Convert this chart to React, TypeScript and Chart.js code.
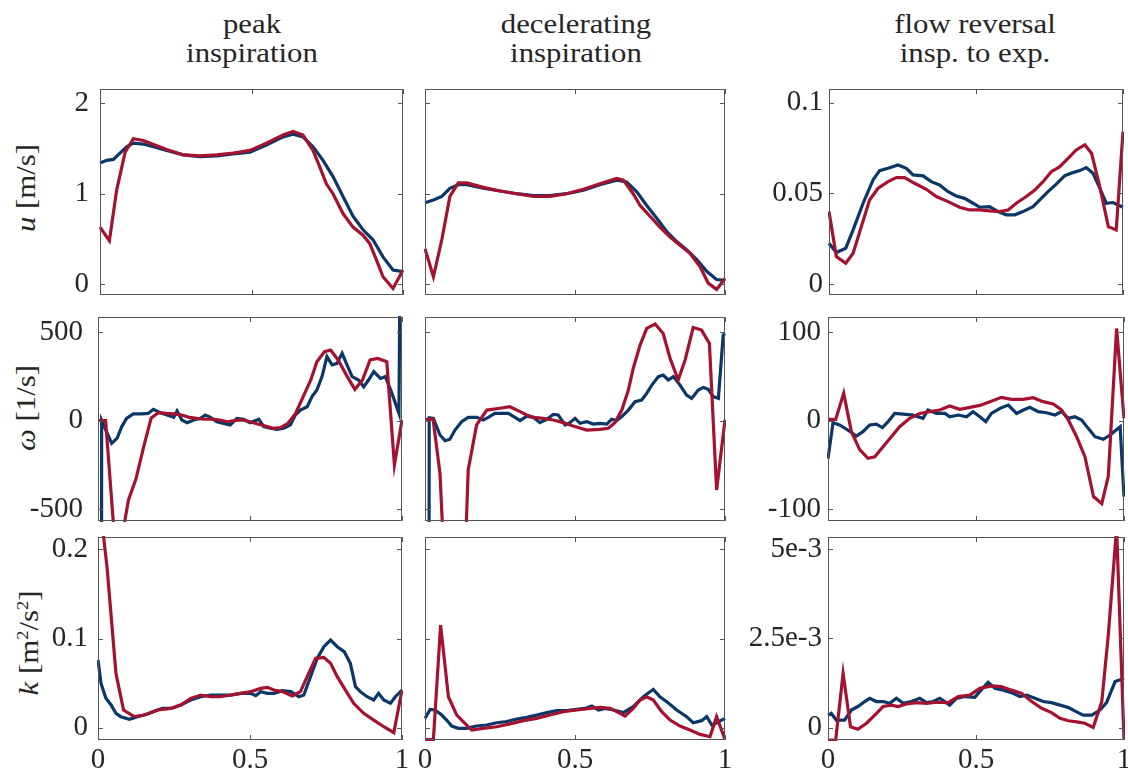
import React, { useEffect, useRef } from "react";
import { Chart, registerables } from "chart.js";

Chart.register(...registerables);

const BLUE = "#0b3668";
const RED = "#a5122f";
const FRAME = "#555555";
const TEXT = "#262626";
const FONT = "'Liberation Serif', 'Times New Roman', Times, serif";

// ---------- tick values / labels ----------
const xTicks = [0, 0.5, 1];
const xTickLabels = ["0", "0.5", "1"];
const uTicks = [0, 1, 2];
const uTickLabels = ["0", "1", "2"];
const uRevTicks = [0, 0.05, 0.1];
const uRevTickLabels = ["0", "0.05", "0.1"];
const wTicks = [-500, 0, 500];
const wTickLabels = ["-500", "0", "500"];
const wRevTicks = [-100, 0, 100];
const wRevTickLabels = ["-100", "0", "100"];
const kTicks = [0, 0.1, 0.2];
const kTickLabels = ["0", "0.1", "0.2"];
const kRevTicks = [0, 2.5e-3, 5e-3];
const kRevTickLabels = ["0", "2.5e-3", "5e-3"];

const columnTitles = [
  ["peak", "inspiration"],
  ["decelerating", "inspiration"],
  ["flow reversal", "insp. to exp."],
];

// ---------- row 1 : u [m/s] ----------
const uPeakBlueX = [0, 0.022, 0.044, 0.066, 0.088, 0.11, 0.143, 0.176, 0.22, 0.275, 0.33, 0.385, 0.44, 0.495, 0.549, 0.604, 0.637, 0.67, 0.703, 0.736, 0.769, 0.802, 0.835, 0.868, 0.901, 0.934, 0.967, 1];
const uPeakBlue = [1.34, 1.37, 1.38, 1.45, 1.52, 1.56, 1.55, 1.52, 1.48, 1.43, 1.41, 1.42, 1.44, 1.46, 1.54, 1.63, 1.66, 1.63, 1.52, 1.37, 1.19, 0.97, 0.75, 0.6, 0.49, 0.3, 0.155, 0.137];
const uPeakRedX = [0, 0.031, 0.055, 0.083, 0.11, 0.143, 0.22, 0.275, 0.33, 0.385, 0.44, 0.495, 0.549, 0.604, 0.637, 0.67, 0.703, 0.725, 0.747, 0.769, 0.802, 0.835, 0.868, 0.89, 0.912, 0.934, 0.967, 1];
const uPeakRed = [0.63, 0.48, 1.04, 1.46, 1.61, 1.59, 1.49, 1.43, 1.42, 1.43, 1.45, 1.48, 1.56, 1.65, 1.69, 1.65, 1.48, 1.3, 1.11, 1.0, 0.78, 0.63, 0.54, 0.45, 0.27, 0.08, -0.05, 0.155];

const uDecBlueX = [0, 0.028, 0.056, 0.083, 0.111, 0.139, 0.194, 0.25, 0.306, 0.361, 0.417, 0.472, 0.528, 0.583, 0.639, 0.672, 0.706, 0.739, 0.772, 0.806, 0.839, 0.872, 0.906, 0.939, 0.972, 1];
const uDecBlue = [0.9, 0.93, 0.97, 1.06, 1.1, 1.1, 1.06, 1.03, 1.0, 0.98, 0.98, 1.0, 1.04, 1.1, 1.15, 1.13, 1.02, 0.87, 0.73, 0.58, 0.47, 0.38, 0.27, 0.14, 0.05, 0.04];
const uDecRedX = [0, 0.028, 0.056, 0.083, 0.111, 0.139, 0.194, 0.25, 0.306, 0.361, 0.417, 0.472, 0.528, 0.583, 0.639, 0.661, 0.694, 0.717, 0.75, 0.783, 0.817, 0.85, 0.883, 0.917, 0.944, 0.972, 1];
const uDecRed = [0.39, 0.08, 0.49, 0.97, 1.12, 1.12, 1.07, 1.03, 1.0, 0.97, 0.97, 1.0, 1.05, 1.11, 1.17, 1.15, 1.0, 0.87, 0.75, 0.63, 0.52, 0.43, 0.34, 0.19, 0.01, -0.06, 0.06];

const uRevBlueX = [0, 0.025, 0.057, 0.082, 0.116, 0.15, 0.172, 0.201, 0.235, 0.263, 0.286, 0.32, 0.348, 0.376, 0.405, 0.433, 0.461, 0.49, 0.512, 0.546, 0.575, 0.603, 0.632, 0.66, 0.694, 0.717, 0.745, 0.773, 0.802, 0.83, 0.853, 0.875, 0.898, 0.921, 0.943, 0.966, 1];
const uRevBlue = [0.0224, 0.0173, 0.0197, 0.0298, 0.0445, 0.0574, 0.0625, 0.0638, 0.0656, 0.0638, 0.0601, 0.0596, 0.0564, 0.0546, 0.0509, 0.0485, 0.0472, 0.0445, 0.0423, 0.0426, 0.0399, 0.0381, 0.0381, 0.0399, 0.0426, 0.0463, 0.0509, 0.055, 0.0597, 0.0614, 0.0625, 0.0642, 0.061, 0.0528, 0.0445, 0.0449, 0.0423];
const uRevRedX = [0, 0.025, 0.057, 0.082, 0.11, 0.138, 0.167, 0.201, 0.229, 0.257, 0.291, 0.331, 0.365, 0.405, 0.444, 0.478, 0.512, 0.546, 0.58, 0.609, 0.637, 0.671, 0.7, 0.728, 0.756, 0.785, 0.813, 0.841, 0.87, 0.893, 0.921, 0.95, 0.977, 1];
const uRevRed = [0.0399, 0.0151, 0.0114, 0.0169, 0.0316, 0.0463, 0.0528, 0.0564, 0.0586, 0.0586, 0.0555, 0.0522, 0.0482, 0.0454, 0.0423, 0.0408, 0.0408, 0.0403, 0.0399, 0.0408, 0.0445, 0.0482, 0.0518, 0.0564, 0.0619, 0.0647, 0.0693, 0.0739, 0.0767, 0.0721, 0.0537, 0.0316, 0.0298, 0.084];

// ---------- row 2 : omega [1/s] ----------
const wPeakBlueX = [0, 0.012, 0.045, 0.063, 0.078, 0.094, 0.116, 0.143, 0.165, 0.182, 0.205, 0.227, 0.249, 0.26, 0.276, 0.293, 0.315, 0.337, 0.353, 0.37, 0.391, 0.413, 0.435, 0.457, 0.479, 0.5, 0.529, 0.545, 0.567, 0.589, 0.611, 0.633, 0.649, 0.666, 0.688, 0.704, 0.72, 0.737, 0.753, 0.77, 0.786, 0.803, 0.819, 0.836, 0.857, 0.874, 0.89, 0.907, 0.929, 0.945, 0.967, 0.99, 1];
const wPeakBlue = [-30000, 0, -129, -100, -35, 12, 37, 37, 40, 63, 44, 31, 18, 54, 3, -12, 3, 12, 31, 18, -7, -16, -25, 12, 7, -12, 7, -35, -44, -50, -44, -25, 31, 59, 78, 135, 172, 248, 361, 314, 323, 380, 314, 248, 229, 191, 229, 276, 238, 248, 153, 40, 2500];
const wPeakRedX = [0, 0.025, 0.055, 0.075, 0.1, 0.125, 0.15, 0.175, 0.2, 0.225, 0.25, 0.275, 0.3, 0.325, 0.35, 0.375, 0.4, 0.425, 0.45, 0.475, 0.5, 0.525, 0.55, 0.575, 0.6, 0.625, 0.65, 0.675, 0.7, 0.72, 0.745, 0.765, 0.79, 0.82, 0.845, 0.87, 0.895, 0.92, 0.95, 0.975, 1];
const wPeakRed = [0, 0, -680, -700, -450, -330, -150, 15, 45, 40, 37, 31, 18, 12, 7, 8, 3, -7, 0, 3, -7, -20, -31, -44, -40, -16, 40, 135, 229, 332, 389, 398, 342, 248, 176, 229, 342, 351, 332, -251, 3];

const wDecBlueX = [0, 0.014, 0.028, 0.05, 0.067, 0.083, 0.1, 0.122, 0.144, 0.172, 0.194, 0.211, 0.233, 0.261, 0.278, 0.3, 0.317, 0.339, 0.361, 0.383, 0.406, 0.428, 0.444, 0.467, 0.483, 0.5, 0.517, 0.539, 0.561, 0.583, 0.606, 0.622, 0.639, 0.656, 0.678, 0.7, 0.722, 0.739, 0.756, 0.778, 0.794, 0.811, 0.828, 0.85, 0.872, 0.889, 0.911, 0.928, 0.944, 0.961, 0.978, 0.994, 1];
const wDecBlue = [-30000, 15, 12, -82, -114, -106, -54, -7, 18, 18, 3, 18, 40, 40, 40, 18, 0, 25, 18, -12, 7, 35, 31, -25, -12, 12, -16, -7, -20, -16, -20, 7, 0, 22, 59, 106, 116, 153, 200, 248, 257, 229, 248, 200, 144, 125, 172, 187, 176, 135, 125, 483, 492];
const wDecRedX = [0, 0.027, 0.05, 0.075, 0.125, 0.144, 0.172, 0.206, 0.244, 0.283, 0.317, 0.339, 0.361, 0.394, 0.428, 0.461, 0.494, 0.539, 0.583, 0.611, 0.633, 0.656, 0.678, 0.694, 0.717, 0.739, 0.767, 0.794, 0.817, 0.844, 0.867, 0.894, 0.922, 0.948, 0.972, 1];
const wDecRed = [7, 7, -300, -1200, -1200, -279, -25, 59, 68, 78, 50, 31, 18, 12, 3, -12, -31, -54, -50, -44, -12, 59, 172, 294, 426, 521, 545, 492, 351, 229, 342, 526, 511, 436, -393, 3];

const wRevBlueX = [0, 0.017, 0.039, 0.068, 0.096, 0.118, 0.141, 0.163, 0.184, 0.203, 0.225, 0.254, 0.287, 0.321, 0.338, 0.366, 0.395, 0.411, 0.44, 0.468, 0.49, 0.513, 0.533, 0.552, 0.581, 0.609, 0.637, 0.66, 0.682, 0.71, 0.738, 0.767, 0.789, 0.812, 0.834, 0.857, 0.879, 0.902, 0.93, 0.953, 0.987, 1];
const wRevBlue = [-43, -2.4, -5, -11, -17.5, -12.6, -5, -4, -8, -1.3, 8, 7.3, 6, 2.4, 11.9, 8, 8, 4.3, 6.2, 4.3, 10, 4.3, -1.3, 8, 13.7, 17.5, 8, 11.9, 14.9, 10, 8.8, 6.2, 10, 2.4, 4.3, 0.6, -8.9, -18.3, -21.3, -16.4, -7, -86];
const wRevRedX = [0, 0.026, 0.053, 0.079, 0.107, 0.135, 0.158, 0.186, 0.214, 0.242, 0.276, 0.31, 0.344, 0.378, 0.411, 0.445, 0.479, 0.513, 0.547, 0.586, 0.62, 0.66, 0.693, 0.727, 0.761, 0.789, 0.812, 0.84, 0.868, 0.897, 0.925, 0.947, 0.975, 1];
const wRevRed = [1.3, 1.3, 30.7, -12.6, -33, -42.7, -41, -29.6, -18.3, -7, 2.4, 8, 10, 11.9, 16.4, 12.6, 14.9, 17.1, 21.3, 26.2, 23.9, 23.9, 25.8, 21.3, 18.6, 11.9, 0.6, -18.3, -40.9, -86, -94, -63, 104, 2.4];

// ---------- row 3 : k [m2/s2] ----------
const kPeakBlueX = [0, 0.01, 0.026, 0.043, 0.059, 0.075, 0.103, 0.13, 0.163, 0.196, 0.212, 0.24, 0.272, 0.305, 0.338, 0.371, 0.403, 0.437, 0.469, 0.502, 0.519, 0.535, 0.557, 0.579, 0.606, 0.634, 0.661, 0.677, 0.699, 0.721, 0.743, 0.765, 0.787, 0.81, 0.83, 0.847, 0.863, 0.885, 0.907, 0.923, 0.94, 0.962, 0.978, 1];
const kPeakBlue = [0.0758, 0.0496, 0.0328, 0.0253, 0.0159, 0.0122, 0.0092, 0.0122, 0.0152, 0.0197, 0.0215, 0.0215, 0.0253, 0.0309, 0.0346, 0.0365, 0.0365, 0.0365, 0.0384, 0.0384, 0.0358, 0.0403, 0.0384, 0.0384, 0.0414, 0.0403, 0.0346, 0.0365, 0.0571, 0.0777, 0.0908, 0.0983, 0.0908, 0.0852, 0.0721, 0.0459, 0.0403, 0.0346, 0.0309, 0.0384, 0.0309, 0.0272, 0.0346, 0.0421];
const kPeakRedX = [0, 0.03, 0.059, 0.084, 0.119, 0.152, 0.196, 0.24, 0.272, 0.305, 0.338, 0.371, 0.403, 0.437, 0.469, 0.502, 0.535, 0.557, 0.579, 0.606, 0.639, 0.666, 0.688, 0.716, 0.743, 0.765, 0.787, 0.814, 0.841, 0.874, 0.907, 0.94, 0.973, 1];
const kPeakRed = [0.27, 0.179, 0.061, 0.0197, 0.0122, 0.014, 0.0197, 0.0215, 0.0253, 0.0328, 0.0365, 0.0346, 0.0346, 0.0365, 0.0384, 0.0403, 0.044, 0.0451, 0.0421, 0.0403, 0.0354, 0.0403, 0.0571, 0.0777, 0.0788, 0.0721, 0.0571, 0.0421, 0.0272, 0.0159, 0.0084, 0.0009, -0.0058, 0.0421];

const kDecBlueX = [0, 0.017, 0.033, 0.056, 0.072, 0.089, 0.111, 0.139, 0.172, 0.206, 0.239, 0.272, 0.306, 0.339, 0.372, 0.406, 0.439, 0.472, 0.506, 0.533, 0.556, 0.578, 0.6, 0.628, 0.661, 0.694, 0.728, 0.761, 0.783, 0.806, 0.839, 0.872, 0.894, 0.922, 0.939, 0.956, 0.972, 1];
const kDecBlue = [0.0103, 0.0204, 0.0197, 0.014, 0.0084, 0.0017, -0.0009, -0.0009, 0.0017, 0.0028, 0.0054, 0.0066, 0.0096, 0.0114, 0.014, 0.0167, 0.0189, 0.0189, 0.0204, 0.0215, 0.0242, 0.0197, 0.0215, 0.0197, 0.0167, 0.0234, 0.0346, 0.0429, 0.0346, 0.029, 0.0197, 0.0122, 0.0054, 0.0077, 0.0122, 0.0028, 0.0054, 0.0103];
const kDecRedX = [0, 0.028, 0.052, 0.078, 0.106, 0.133, 0.156, 0.194, 0.239, 0.283, 0.328, 0.372, 0.417, 0.461, 0.506, 0.55, 0.583, 0.617, 0.639, 0.667, 0.694, 0.717, 0.739, 0.761, 0.789, 0.817, 0.85, 0.883, 0.917, 0.95, 0.972, 1];
const kDecRed = [-0.0135, -0.0135, 0.115, 0.0346, 0.014, 0.0047, -0.0028, -0.0009, 0.0009, 0.0039, 0.0077, 0.0103, 0.014, 0.0178, 0.0197, 0.0215, 0.0227, 0.0215, 0.0178, 0.0129, 0.0215, 0.0309, 0.0346, 0.0309, 0.0178, 0.0084, 0.0017, -0.0028, -0.0077, -0.0103, 0.0122, -0.0135];

const kRevBlueX = [0, 0.011, 0.028, 0.056, 0.079, 0.101, 0.124, 0.141, 0.163, 0.186, 0.209, 0.231, 0.254, 0.282, 0.31, 0.333, 0.355, 0.378, 0.411, 0.434, 0.462, 0.496, 0.519, 0.541, 0.564, 0.592, 0.62, 0.648, 0.671, 0.699, 0.727, 0.755, 0.784, 0.812, 0.84, 0.862, 0.891, 0.919, 0.941, 0.97, 1];
const kRevBlue = [0.35e-3, 0.4e-3, 0.21e-3, 0.21e-3, 0.49e-3, 0.59e-3, 0.73e-3, 0.82e-3, 0.73e-3, 0.73e-3, 0.68e-3, 0.82e-3, 0.68e-3, 0.73e-3, 0.82e-3, 0.7e-3, 0.73e-3, 0.82e-3, 0.63e-3, 0.82e-3, 0.87e-3, 0.85e-3, 1.07e-3, 1.27e-3, 1.1e-3, 1.05e-3, 0.98e-3, 0.87e-3, 0.91e-3, 0.82e-3, 0.73e-3, 0.7e-3, 0.63e-3, 0.56e-3, 0.44e-3, 0.35e-3, 0.35e-3, 0.49e-3, 0.7e-3, 1.29e-3, 1.38e-3];
const kRevRedX = [0, 0.026, 0.051, 0.076, 0.101, 0.13, 0.158, 0.186, 0.214, 0.237, 0.265, 0.299, 0.333, 0.366, 0.406, 0.44, 0.479, 0.513, 0.553, 0.586, 0.62, 0.654, 0.688, 0.722, 0.755, 0.784, 0.812, 0.84, 0.868, 0.896, 0.925, 0.947, 0.975, 1];
const kRevRed = [-0.35e-3, -0.35e-3, 1.52e-3, 0.02e-3, -0.05e-3, 0.12e-3, 0.35e-3, 0.59e-3, 0.63e-3, 0.59e-3, 0.66e-3, 0.7e-3, 0.68e-3, 0.71e-3, 0.7e-3, 0.87e-3, 0.91e-3, 1.1e-3, 1.17e-3, 1.15e-3, 1.05e-3, 0.96e-3, 0.73e-3, 0.54e-3, 0.42e-3, 0.26e-3, 0.19e-3, 0.16e-3, 0.12e-3, 0, 0.73e-3, 2.6e-3, 5.6e-3, -0.35e-3];

// ---------- layout ----------
const PL = 100; // space left of plot box inside canvas
const PT = 40;
const PR = 20;
const PB = 50;
const TICK_LEN = 5;

type PanelSpec = {
  id: string;
  box: [number, number, number, number]; // left, top, right, bottom (page px)
  yMin: number;
  yMax: number;
  yTicks: number[];
  yLabels: string[];
  showY: boolean;
  showX: boolean;
  yPad: number;
  blueX: number[];
  blue: number[];
  redX: number[];
  red: number[];
};

const panels: PanelSpec[] = [
  { id: "u1", box: [100, 89, 403, 295], yMin: -0.122, yMax: 2.16, yTicks: uTicks, yLabels: uTickLabels, showY: true, showX: false, yPad: 11, blueX: uPeakBlueX, blue: uPeakBlue, redX: uPeakRedX, red: uPeakRed },
  { id: "u2", box: [425, 89, 725, 295], yMin: -0.122, yMax: 2.16, yTicks: uTicks, yLabels: uTickLabels, showY: false, showX: false, yPad: 11, blueX: uDecBlueX, blue: uDecBlue, redX: uDecRedX, red: uDecRed },
  { id: "u3", box: [829, 89, 1123, 295], yMin: -0.0061, yMax: 0.1075, yTicks: uRevTicks, yLabels: uRevTickLabels, showY: true, showX: false, yPad: 6, blueX: uRevBlueX, blue: uRevBlue, redX: uRevRedX, red: uRevRed },
  { id: "w1", box: [98, 317, 402, 521], yMin: -568, yMax: 585, yTicks: wTicks, yLabels: wTickLabels, showY: true, showX: false, yPad: 15, blueX: wPeakBlueX, blue: wPeakBlue, redX: wPeakRedX, red: wPeakRed },
  { id: "w2", box: [425, 317, 725, 521], yMin: -568, yMax: 585, yTicks: wTicks, yLabels: wTickLabels, showY: false, showX: false, yPad: 15, blueX: wDecBlueX, blue: wDecBlue, redX: wDecRedX, red: wDecRed },
  { id: "w3", box: [828, 317, 1124, 521], yMin: -113.6, yMax: 117, yTicks: wRevTicks, yLabels: wRevTickLabels, showY: true, showX: false, yPad: 7, blueX: wRevBlueX, blue: wRevBlue, redX: wRevRedX, red: wRevRed },
  { id: "k1", box: [98, 537, 402, 740], yMin: -0.014, yMax: 0.214, yTicks: kTicks, yLabels: kTickLabels, showY: true, showX: true, yPad: 10, blueX: kPeakBlueX, blue: kPeakBlue, redX: kPeakRedX, red: kPeakRed },
  { id: "k2", box: [425, 537, 725, 740], yMin: -0.014, yMax: 0.214, yTicks: kTicks, yLabels: kTickLabels, showY: false, showX: true, yPad: 10, blueX: kDecBlueX, blue: kDecBlue, redX: kDecRedX, red: kDecRed },
  { id: "k3", box: [828, 537, 1124, 740], yMin: -0.00035, yMax: 0.00535, yTicks: kRevTicks, yLabels: kRevTickLabels, showY: true, showX: true, yPad: 6, blueX: kRevBlueX, blue: kRevBlue, redX: kRevRedX, red: kRevRed },
];

const toXY = (xs: number[], ys: number[]) => xs.map((x, i) => ({ x, y: ys[i] }));

function Panel({ spec }: { spec: PanelSpec }) {
  const ref = useRef<HTMLCanvasElement>(null);
  const [l, t, r, b] = spec.box;
  const W = r - l + PL + PR;
  const H = b - t + PT + PB;

  useEffect(() => {
    const framePlugin = {
      id: "frame" + spec.id,
      afterDraw(c: any) {
        const { ctx, chartArea: a } = c;
        const xs = c.scales.x;
        const ys = c.scales.y;
        ctx.save();
        ctx.strokeStyle = FRAME;
        ctx.lineWidth = 1;
        ctx.beginPath();
        ctx.rect(a.left + 0.5, a.top + 0.5, a.right - a.left - 1, a.bottom - a.top - 1);
        for (const v of xTicks) {
          const px = Math.round(xs.getPixelForValue(v)) + 0.5;
          ctx.moveTo(px, a.bottom);
          ctx.lineTo(px, a.bottom - TICK_LEN);
          ctx.moveTo(px, a.top);
          ctx.lineTo(px, a.top + TICK_LEN);
        }
        for (const v of spec.yTicks) {
          const py = Math.round(ys.getPixelForValue(v)) + 0.5;
          ctx.moveTo(a.left, py);
          ctx.lineTo(a.left + TICK_LEN, py);
          ctx.moveTo(a.right, py);
          ctx.lineTo(a.right - TICK_LEN, py);
        }
        ctx.stroke();
        ctx.restore();
      },
    };

    const tickFont = { family: FONT, size: 29 };
    const chart = new Chart(ref.current as HTMLCanvasElement, {
      type: "line",
      data: {
        datasets: [
          { data: toXY(spec.redX, spec.red), borderColor: RED, borderWidth: 3.2, pointRadius: 0, tension: 0, fill: false, clip: 1 },
          { data: toXY(spec.blueX, spec.blue), borderColor: BLUE, borderWidth: 3.2, pointRadius: 0, tension: 0, fill: false, clip: 1 },
        ],
      },
      options: {
        animation: false,
        responsive: false,
        maintainAspectRatio: false,
        events: [],
        layout: { padding: { left: 0, top: PT, right: PR, bottom: 0 } },
        plugins: { legend: { display: false }, tooltip: { enabled: false }, title: { display: false } },
        scales: {
          x: {
            type: "linear",
            min: 0,
            max: 1,
            grid: { display: false, drawTicks: false },
            border: { display: false },
            afterBuildTicks: (s: any) => {
              s.ticks = xTicks.map((v) => ({ value: v }));
            },
            afterFit: (s: any) => {
              s.height = PB;
            },
            ticks: {
              display: spec.showX,
              autoSkip: false,
              maxRotation: 0,
              minRotation: 0,
              padding: 3,
              color: TEXT,
              font: tickFont,
              callback: (_v: any, i: number) => xTickLabels[i],
            },
          },
          y: {
            type: "linear",
            min: spec.yMin,
            max: spec.yMax,
            grid: { display: false, drawTicks: false },
            border: { display: false },
            afterBuildTicks: (s: any) => {
              s.ticks = spec.yTicks.map((v) => ({ value: v }));
            },
            afterFit: (s: any) => {
              s.width = PL;
            },
            ticks: {
              display: spec.showY,
              autoSkip: false,
              padding: spec.yPad,
              color: TEXT,
              font: tickFont,
              callback: (_v: any, i: number) => spec.yLabels[i],
            },
          },
        },
      },
      plugins: [framePlugin],
    } as any);
    return () => chart.destroy();
  }, []);

  return (
    <canvas
      ref={ref}
      width={W}
      height={H}
      style={{ position: "absolute", left: l - PL, top: t - PT, width: W, height: H }}
    />
  );
}

const titleCenters = [252, 576, 975];
const yTitleCenters = [188, 408, 643];

export default function App() {
  const titleStyle = (cx: number): React.CSSProperties => ({
    position: "absolute",
    left: cx - 150,
    top: 8.5,
    width: 300,
    textAlign: "center",
    fontSize: 28,
    lineHeight: "29.5px",
    fontFamily: FONT,
    color: TEXT,
    transform: "scaleX(1.1)",
    whiteSpace: "nowrap",
  });
  const yTitleStyle = (cy: number): React.CSSProperties => ({
    position: "absolute",
    left: 26,
    top: cy,
    fontSize: 28,
    lineHeight: "28px",
    fontFamily: FONT,
    color: TEXT,
    whiteSpace: "nowrap",
    transform: "translate(-50%, -50%) rotate(-90deg) scaleX(1.1)",
  });
  return (
    <div style={{ position: "fixed", left: 0, top: 0, width: 1128, height: 775, background: "#fff", overflow: "hidden" }}>
      {columnTitles.map((lines, i) => (
        <div key={"t" + i} style={titleStyle(titleCenters[i])}>
          {lines[0]}
          <br />
          {lines[1]}
        </div>
      ))}
      <div style={yTitleStyle(yTitleCenters[0])}>
        <i>u</i> [m/s]
      </div>
      <div style={yTitleStyle(yTitleCenters[1])}>
        <i>ω</i> [1/s]
      </div>
      <div style={yTitleStyle(yTitleCenters[2])}>
        <i>k</i> [m<sup style={{ fontSize: "0.6em", verticalAlign: "0.55em" }}>2</sup>/s<sup style={{ fontSize: "0.6em", verticalAlign: "0.55em" }}>2</sup>]
      </div>
      {panels.map((p) => (
        <Panel key={p.id} spec={p} />
      ))}
    </div>
  );
}
